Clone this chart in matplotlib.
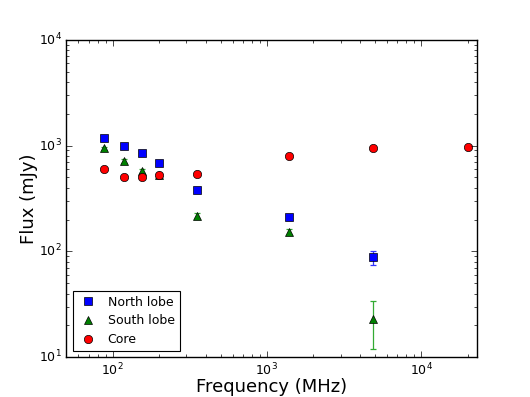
#!/usr/bin/env python3

import numpy
import matplotlib
matplotlib.use("Agg")
import matplotlib.pyplot as plt

# Frequencies in MHz.

freq_north = [88., 118., 154., 200., 350., 1400., 4850.]
freq_south = [88., 118., 154., 200., 350., 1400., 4850.]
freq_core = [88., 118., 154., 200., 350., 1400., 4850., 20000.]

# Fluxes (mJy) and errors.

flux_north = [1180., 980., 850., 680., 380., 210., 88.]
err_north = [40., 35., 30., 25., 25., 12., 14.]

flux_south = [940., 720., 580., 525., 215., 153., 23.]
err_south = [35., 30., 25., 20., 14., 10., 11.]

flux_core = [600., 507., 507., 525., 537., 800., 945., 965.]

# Old-school look.

plt.style.use("classic")
matplotlib.rcParams["font.family"] = "DejaVu Sans"
matplotlib.rcParams["figure.facecolor"] = "white"
matplotlib.rcParams["savefig.facecolor"] = "white"

fig, ax = plt.subplots(nrows=1, ncols=1, figsize=(5.3, 3.97), dpi=100)
fig.subplots_adjust(left=0.125, right=0.9, bottom=0.1, top=0.9)

# Error bars first, then the markers on top.

ax.errorbar(freq_north, flux_north, yerr=err_north, fmt="none",
        ecolor="#3333ff", elinewidth=0.9, capsize=2.5, capthick=0.9)
ax.errorbar(freq_south, flux_south, yerr=err_south, fmt="none",
        ecolor="#33aa33", elinewidth=0.9, capsize=2.5, capthick=0.9)

h_north, = ax.plot(freq_north, flux_north, "s", color="b", mec="k", mew=0.5,
        ms=6)
h_south, = ax.plot(freq_south, flux_south, "^", color="g", mec="k", mew=0.5,
        ms=6)
h_core, = ax.plot(freq_core, flux_core, "o", color="r", mec="k", mew=0.5,
        ms=6)

ax.set_xscale("log")
ax.set_yscale("log")
ax.set_xlim(50., 2.3e4)
ax.set_ylim(10., 1.0e4)

ax.tick_params(labelsize=9, pad=3)

# Add a legend, markers only.

leg = ax.legend([h_north, h_south, h_core],
        ["North lobe", "South lobe", "Core"], loc="lower left", numpoints=1,
        fontsize=9, fancybox=False, handlelength=1.6, handletextpad=0.8,
        borderpad=0.4, labelspacing=0.45, markerscale=1.0)
leg.get_frame().set_linewidth(0.8)

ax.set_xlabel("Frequency (MHz)", fontsize=13, labelpad=0)
ax.set_ylabel("Flux (mJy)", fontsize=13, labelpad=1)

fig.savefig("out.png", dpi=100)
